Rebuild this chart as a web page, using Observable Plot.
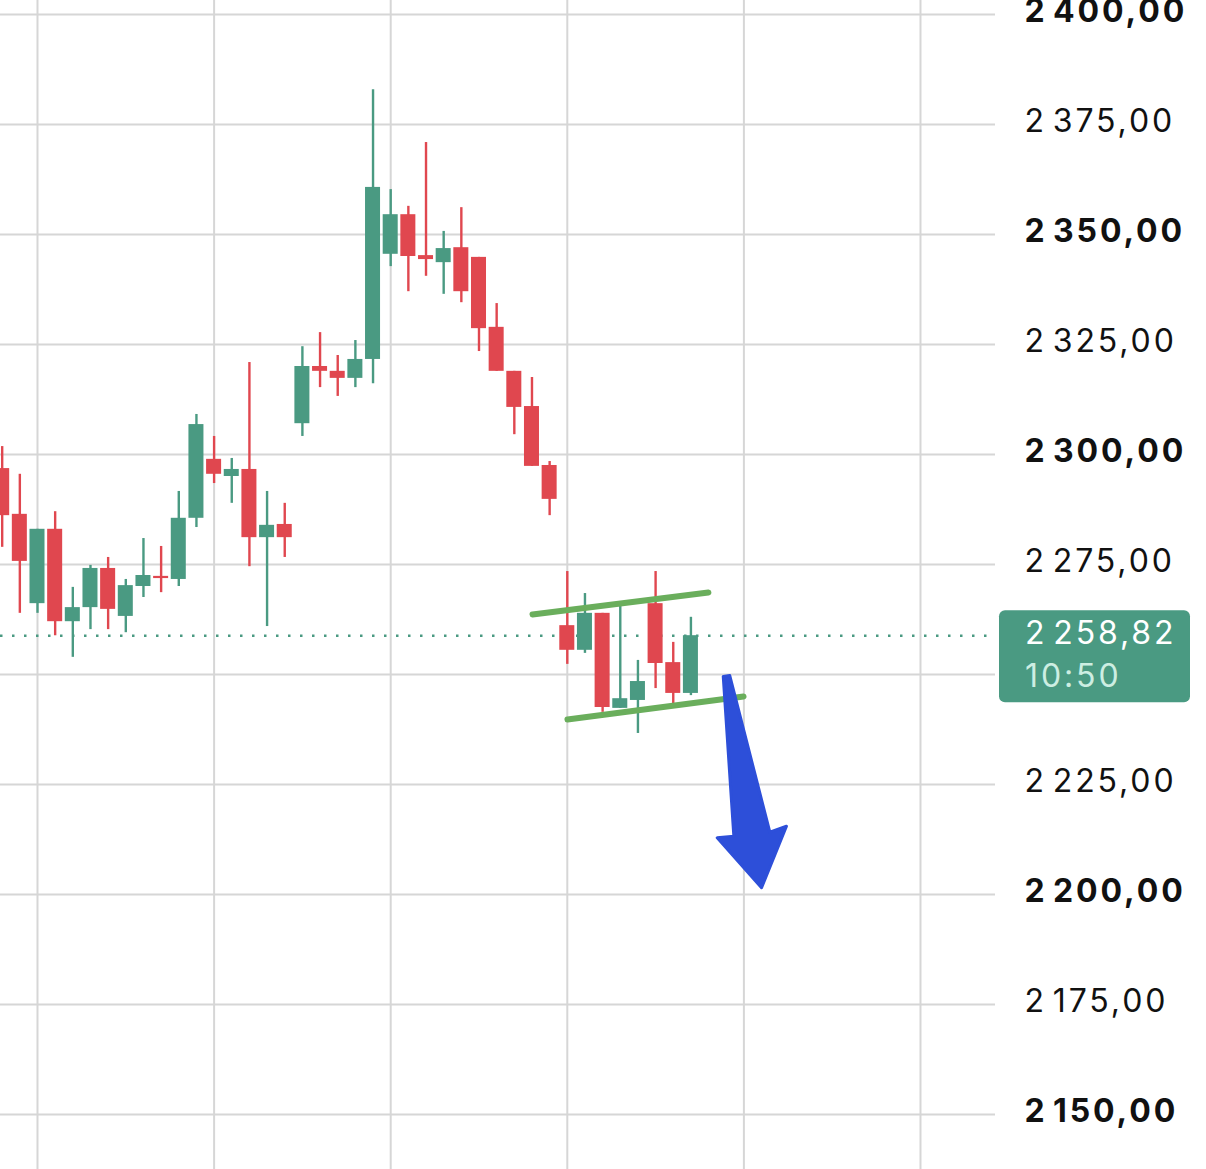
<!DOCTYPE html>
<html>
<head>
<meta charset="utf-8">
<script src="https://cdn.jsdelivr.net/npm/d3@7"></script>
<script src="https://cdn.jsdelivr.net/npm/@observablehq/plot@0.6"></script>
<style>
  html, body { margin: 0; padding: 0; background: #ffffff; }
  #chart svg { display: block; overflow: visible; }
  #chart svg text { letter-spacing: 2.9px; }
</style>
</head>
<body>
<div id="chart"></div>
<script>
// ---- Data (candle index, OHLC prices) ----
const open  = [2296.8, 2286.4, 2266.1, 2283.0, 2262.0, 2265.2, 2274.1, 2263.2, 2270.0, 2272.3,
               2271.6, 2285.5, 2298.9, 2295.0, 2296.6, 2281.1, 2284.1, 2307.0, 2320.0, 2318.9,
               2317.3, 2321.6, 2345.5, 2354.5, 2345.2, 2343.6, 2347.0, 2344.8, 2328.9, 2318.9,
               2310.9, 2297.5, 2261.1, 2255.5, 2263.9, 2242.3, 2244.1, 2266.1, 2252.7, 2245.7];
const high  = [2301.8, 2295.5, 2283.0, 2287.0, 2269.8, 2274.8, 2276.6, 2271.6, 2280.9, 2279.1,
               2291.6, 2309.1, 2304.1, 2299.1, 2320.9, 2291.6, 2288.9, 2324.5, 2327.7, 2322.5,
               2325.9, 2382.9, 2360.2, 2356.4, 2370.9, 2350.7, 2356.1, 2344.8, 2334.3, 2318.9,
               2317.5, 2298.4, 2273.4, 2268.4, 2263.9, 2266.1, 2253.2, 2273.4, 2257.3, 2263.0];
const low   = [2278.9, 2263.9, 2263.9, 2258.8, 2253.9, 2260.2, 2260.2, 2259.5, 2267.5, 2268.6,
               2270.0, 2283.4, 2293.4, 2288.9, 2274.5, 2260.9, 2276.6, 2304.1, 2315.2, 2313.2,
               2315.2, 2316.1, 2342.7, 2337.0, 2340.5, 2336.4, 2334.5, 2323.4, 2318.9, 2304.5,
               2297.3, 2286.1, 2252.3, 2254.8, 2241.4, 2242.3, 2236.6, 2246.8, 2242.3, 2245.2];
const close = [2286.1, 2275.7, 2283.0, 2262.0, 2265.2, 2274.1, 2264.8, 2270.2, 2272.5, 2271.8,
               2285.5, 2306.8, 2295.5, 2296.6, 2281.1, 2283.9, 2281.1, 2320.0, 2318.9, 2317.3,
               2321.6, 2360.7, 2354.5, 2345.0, 2344.3, 2346.8, 2337.0, 2328.6, 2318.9, 2310.7,
               2297.3, 2289.8, 2255.5, 2263.9, 2242.5, 2244.5, 2248.4, 2252.5, 2245.7, 2258.82];

const lastPrice = 2258.82;
const lastTime = "10:50";

// axis ticks (the 2 250,00 label is hidden behind the price tag in the reference)
const regularTicks = [2175, 2225, 2275, 2325, 2375];
const boldTicks = [2150, 2200, 2300, 2350, 2400];
const priceTicks = [2150, 2175, 2200, 2225, 2250, 2275, 2300, 2325, 2350, 2375, 2400];
const timeGrid = [2, 12, 22, 32, 42, 52];

// drawn annotations (index, price)
const upperTrendX = [30.03, 39.99];
const upperTrendY = [2263.64, 2268.64];
const lowerTrendX = [32.01, 41.98];
const lowerTrendY = [2239.77, 2245.0];
const arrowX = [40.83, 41.20, 43.47, 44.41, 43.00, 40.49, 41.43, 40.83];
const arrowY = [2249.55, 2249.77, 2214.16, 2215.52, 2201.52, 2212.89, 2213.25, 2249.55];

// ---- styles ----
const GREEN = "#4a9a82";
const RED = "#e0474f";
const GRID = "#d6d6d6";
const TREND = "#6aae5c";
const BLUE = "#2d4fd9";
const FONT = "Inter, 'Noto Sans', sans-serif";

const candles = open.map((o, i) => ({i, o, h: high[i], l: low[i], c: close[i]}));
const upTrend = upperTrendX.map((x, k) => ({x, y: upperTrendY[k]}));
const lowTrend = lowerTrendX.map((x, k) => ({x, y: lowerTrendY[k]}));
const arrow = arrowX.map((x, k) => ({x, y: arrowY[k]}));

const fmt = v => {
  const s = v.toFixed(2).split(".");
  const int = s[0];
  return int.slice(0, -3) + "\u200A" + int.slice(-3) + "," + s[1];
};
const colorOf = d => (d.c >= d.o ? GREEN : RED);

const labelOpts = {
  y: d => d, text: d => fmt(d), frameAnchor: "right", textAnchor: "start",
  dx: 29, dy: -3, fontSize: 32, fill: "#111111"
};

const W = 1206, H = 1169;
const plot = Plot.plot({
  width: W,
  height: H,
  marginLeft: 0,
  marginRight: 211,
  marginTop: 0,
  marginBottom: 0,
  style: {background: "#ffffff", fontFamily: FONT},
  x: {type: "linear", domain: [-0.095, 56.247], axis: null},
  y: {type: "linear", domain: [2137.5, 2403.18], axis: null},
  color: {type: "identity"},
  marks: [
    Plot.ruleX(timeGrid, {stroke: GRID, strokeWidth: 2}),
    Plot.ruleY(priceTicks, {stroke: GRID, strokeWidth: 2}),
    Plot.ruleY([lastPrice], {stroke: GREEN, strokeWidth: 2.5, strokeDasharray: "2.5,9.5"}),
    Plot.ruleX(candles, {x: "i", y1: "l", y2: "h", stroke: colorOf, strokeWidth: 2.4}),
    Plot.rect(candles, {
      x1: d => d.i - 0.425, x2: d => d.i + 0.425,
      y1: "o", y2: "c", fill: colorOf
    }),
    Plot.line(upTrend, {x: "x", y: "y", stroke: TREND, strokeWidth: 6, strokeLinecap: "round"}),
    Plot.line(lowTrend, {x: "x", y: "y", stroke: TREND, strokeWidth: 6, strokeLinecap: "round"}),
    Plot.line(arrow, {x: "x", y: "y", fill: BLUE, stroke: BLUE, strokeWidth: 3, strokeLinejoin: "round"}),
    Plot.text(regularTicks, {...labelOpts, fontWeight: 400}),
    Plot.text(boldTicks, {...labelOpts, fontWeight: 700})
  ]
});
document.getElementById("chart").appendChild(plot);

// price tag at the last price, placed with the plot's own y scale
const yp = plot.scale("y").apply(lastPrice);
const svg = d3.select(plot);
const g = svg.append("g").attr("font-family", FONT).attr("text-anchor", "start");
g.append("rect")
  .attr("x", 999).attr("y", yp - 25).attr("width", 191).attr("height", 92)
  .attr("rx", 6).attr("fill", GREEN);
g.append("text")
  .attr("x", 1025).attr("y", yp - 2).attr("dy", "0.35em")
  .attr("font-size", 32).attr("fill", "#ffffff").text(fmt(lastPrice));
g.append("text")
  .attr("x", 1025).attr("y", yp + 41).attr("dy", "0.35em")
  .attr("font-size", 32).attr("fill", "#cdeee2").text(lastTime);
</script>
</body>
</html>
